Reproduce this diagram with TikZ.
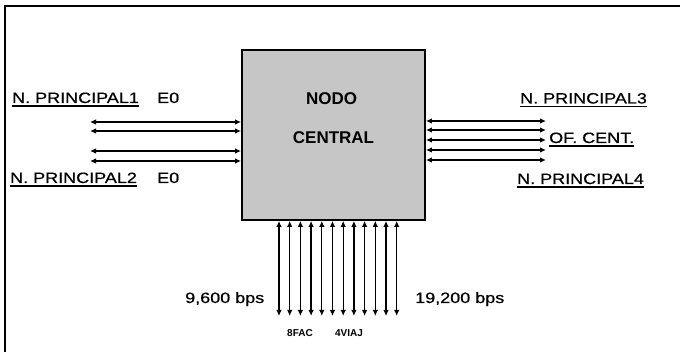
\documentclass[tikz,border=0pt]{standalone}
\usepackage{fontspec}
\setmainfont{Liberation Sans}[FakeStretch=1.2,FakeBold=0.6]
\newfontfamily\boxfont{Liberation Sans}
\usetikzlibrary{arrows.meta}
\tikzset{
    link/.style={line width=1.3pt,{Latex[length=6pt,width=5.5pt]}-{Latex[length=6pt,width=5.5pt]}},
    lbl/.style={anchor=base west,inner sep=0pt,font=\fontsize{15}{18}\selectfont},
    uline/.style={line width=1.4pt},
    centre/.style={font=\boxfont\bfseries\fontsize{17}{20}\selectfont},
    tag/.style={font=\boxfont\bfseries\fontsize{10}{12}\selectfont,anchor=base}
}

\begin{document}
\begin{tikzpicture}[x=1pt,y=-1pt]
    \useasboundingbox (0,0) rectangle (680,352);
    % frame
    \draw[line width=1.4pt] (5,352) -- (5,6) -- (680,6);
    % central node
    \node[draw,line width=1.8pt,fill=gray!45,minimum width=183pt,minimum height=170pt,inner sep=0pt] (central) at (333.5,135) {};
    \node[centre] (nodo) at (331.5,98.5) {NODO};
    \node[centre] (ctext) at (333.5,138) {CENTRAL};
    % left links
    \foreach \y [count=\i] in {122,131,151,161} {
        \coordinate (l\i) at (90,\y);
        \draw[link] (l\i) -- (l\i -| central.west);
    }
    % right links
    \foreach \y [count=\i] in {121,130,140,150,160} {
        \coordinate (r\i) at (546,\y);
        \draw[link] (r\i -| central.east) -- (r\i);
    }
    % bottom links
    \foreach \i in {0,...,11} {
        \coordinate (b\i) at (279+10.7*\i,316);
        \draw[link] (b\i |- central.south) -- (b\i);
    }
    % labels
    \node[lbl] (np1) at (12,103) {N. PRINCIPAL1};
    \node[lbl] (e1) at (157,103) {E0};
    \node[lbl] (np2) at (10,183) {N. PRINCIPAL2};
    \node[lbl] (e2) at (157,183) {E0};
    \node[lbl] (np3) at (520,103.5) {N. PRINCIPAL3};
    \node[lbl] (ofc) at (549,143) {OF. CENT.};
    \node[lbl] (np4) at (517,184) {N. PRINCIPAL4};
    \foreach \n in {np1,np2,np3,ofc,np4}
        \draw[uline] ([yshift=-3pt]\n.base west) -- ([yshift=-3pt]\n.base east);
    \node[lbl] (slow) at (185,303) {9,600 bps};
    \node[lbl] (fast) at (415,303) {19,200 bps};
    \node[tag] (fac) at (300,337) {8FAC};
    \node[tag] (viaj) at (349,337) {4VIAJ};
\end{tikzpicture}
\end{document}
